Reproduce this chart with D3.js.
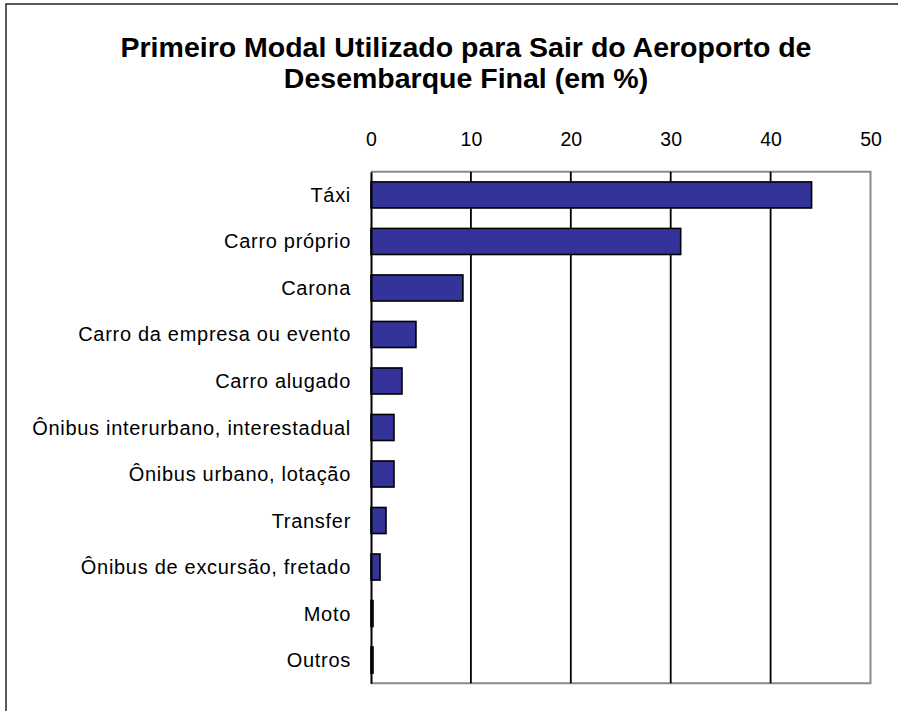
<!DOCTYPE html>
<html>
<head>
<meta charset="utf-8">
<script src="https://cdn.jsdelivr.net/npm/d3@7"></script>
<style>
  html, body { margin: 0; padding: 0; background: #fff; }
  svg { display: block; }
  text { font-family: "Liberation Sans", Arial, sans-serif; fill: #000; }
</style>
</head>
<body>
<svg id="chart" width="898" height="711"></svg>
<script>
// Modal categories (top to bottom) and their shares in percent
const categories = [
  "Táxi",
  "Carro próprio",
  "Carona",
  "Carro da empresa ou evento",
  "Carro alugado",
  "Ônibus interurbano, interestadual",
  "Ônibus urbano, lotação",
  "Transfer",
  "Ônibus de excursão, fretado",
  "Moto",
  "Outros"
];
const values = [44.1, 31.0, 9.2, 4.5, 3.1, 2.3, 2.3, 1.5, 0.9, 0.2, 0.2];
const tickValues = [0, 10, 20, 30, 40, 50];
const titleLines = [
  "Primeiro Modal Utilizado para Sair do Aeroporto de",
  "Desembarque Final (em %)"
];

const svg = d3.select("#chart");

// Outer chart frame (left and top edges visible)
svg.append("rect")
  .attr("x", 6).attr("y", 4)
  .attr("width", 1000).attr("height", 1000)
  .attr("fill", "none")
  .attr("stroke", "#333")
  .attr("stroke-width", 1.6);

// Title
svg.append("g").selectAll("text")
  .data(titleLines)
  .join("text")
  .attr("x", 466)
  .attr("y", (d, i) => 57 + i * 31)
  .attr("text-anchor", "middle")
  .attr("font-size", "28.5px")
  .attr("font-weight", "bold")
  .text(d => d);

const plot = { left: 371, right: 870.5, top: 171.7, bottom: 683.3 };

const x = d3.scaleLinear().domain([0, 50]).range([plot.left, plot.right]);
const y = d3.scaleBand()
  .domain(categories)
  .range([plot.top, plot.bottom])
  .paddingInner(0.44)
  .paddingOuter(0.22);

// Plot area border: top, right, bottom in gray
svg.append("path")
  .attr("d", `M${plot.left},${plot.top}H${plot.right}V${plot.bottom}H${plot.left}`)
  .attr("fill", "none")
  .attr("stroke", "#8a8a8a")
  .attr("stroke-width", 2);

// Vertical gridlines
svg.append("g").selectAll("line")
  .data(tickValues.filter(t => t > 0 && t < 50))
  .join("line")
  .attr("x1", d => x(d)).attr("x2", d => x(d))
  .attr("y1", plot.top).attr("y2", plot.bottom)
  .attr("stroke", "#000")
  .attr("stroke-width", 1.8);

// Value axis labels along the top
const xAxis = d3.axisTop(x).tickValues(tickValues).tickSize(0).tickPadding(0).tickFormat(d3.format("d"));
const gx = svg.append("g")
  .attr("transform", `translate(0,${plot.top - 26})`)
  .call(xAxis);
gx.select(".domain").remove();
gx.selectAll("text")
  .attr("font-size", "19.5px")
  .attr("font-family", "'Liberation Sans', Arial, sans-serif")
  .attr("fill", "#000")
  .attr("dy", "0");

// Bars
svg.append("g").selectAll("rect")
  .data(categories.map((c, i) => ({ c, v: values[i] })))
  .join("rect")
  .attr("x", x(0))
  .attr("y", d => y(d.c))
  .attr("width", d => x(d.v) - x(0))
  .attr("height", y.bandwidth())
  .attr("fill", "#333399")
  .attr("stroke", "#000")
  .attr("stroke-width", 1.6);

// Category axis
const yAxis = d3.axisLeft(y).tickSize(0).tickPadding(20);
const gy = svg.append("g")
  .attr("transform", `translate(${plot.left},0)`)
  .call(yAxis);
gy.select(".domain")
  .attr("stroke", "#000")
  .attr("stroke-width", 2);
gy.selectAll("text")
  .attr("font-size", "20px")
  .attr("font-family", "'Liberation Sans', Arial, sans-serif")
  .attr("letter-spacing", "0.7px")
  .attr("fill", "#000")
  .attr("dy", "0.35em");
</script>
</body>
</html>
